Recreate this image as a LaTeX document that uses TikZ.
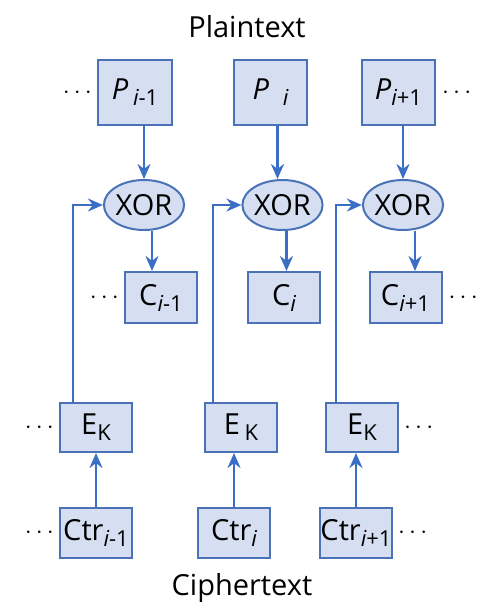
\documentclass[tikz,border=0pt]{standalone}
\usepackage{fontspec}
\setmainfont{Open Sans}
\usetikzlibrary{shapes.geometric,arrows.meta,positioning}

\definecolor{boxfill}{HTML}{D6DFF2}
\definecolor{boxline}{HTML}{4A72B6}
\definecolor{arrline}{HTML}{3B6FC6}

% lowered index text, e.g. i-1 or K
\def\low#1{\raisebox{-6pt}{\fontsize{22}{24}\selectfont #1}}
\def\isub#1{\low{\itshape i\upshape #1}}

\tikzset{
  blk/.style={draw=boxline, fill=boxfill, line width=2pt, minimum width=72pt,
    minimum height=50pt, inner sep=0pt},
  xorop/.style={ellipse, draw=boxline, fill=boxfill, line width=2pt,
    minimum width=72pt, minimum height=50pt, inner sep=0pt},
  arr/.style={draw=arrline, line width=2.5pt, -{Stealth[length=15pt,width=13pt]}},
  more/.style={inner sep=0pt}
}

\begin{document}
\begin{tikzpicture}[x=1pt,y=-1pt,font=\fontsize{29}{32}\selectfont]
        \useasboundingbox (0,0) rectangle (490,611);

        \node (pt) at (247,27) {Plaintext};
        \node (ct) at (242,588) {Ciphertext};

        % plaintext blocks
        \node[blk,minimum width=74pt,minimum height=65pt] (P1) at (135,92.5) {\textit{P}\,\isub{-1}};
        \node[blk,minimum width=73pt,minimum height=65pt] (P2) at (270.5,92.5) {\textit{P}\hspace{14pt}\isub{}};
        \node[blk,minimum width=73pt,minimum height=65pt] (P3) at (398.5,92.5) {\textit{P}\isub{+1}};

        % xor units
        \node[xorop] (X1) at (144,205) {XOR};
        \node[xorop] (X2) at (282.5,205) {XOR};
        \node[xorop] (X3) at (403,205) {XOR};

        % ciphertext blocks
        \node[blk,minimum height=51pt] (C1) at (161,297.5) {C\isub{-1}};
        \node[blk,minimum height=51pt] (C2) at (284,297.5) {C\isub{}};
        \node[blk,minimum height=51pt] (C3) at (405.5,297.5) {C\isub{+1}};

        % block cipher
        \node[blk,minimum height=49pt] (E1) at (96,427.5) {E\low{K}};
        \node[blk,minimum height=49pt] (E2) at (241,427.5) {E\,\low{K}};
        \node[blk,minimum height=49pt] (E3) at (362,427.5) {E\low{K}};

        % counters
        \node[blk] (R1) at (96,533) {Ctr\isub{-1}};
        \node[blk] (R2) at (234,533) {Ctr\isub{}};
        \node[blk] (R3) at (356,533) {Ctr\isub{+1}};

        % dots on the open ends
        \node[more,left=5pt of P1] (dP) {$\cdots$};
        \node[more,right=6pt of P3] (dP3) {$\cdots$};
        \node[more,left=5pt of C1] (dC) {$\cdots$};
        \node[more,right=6pt of C3] (dC3) {$\cdots$};
        \node[more,left=5pt of E1] (dE) {$\cdots$};
        \node[more,right=5pt of E3] (dE3) {$\cdots$};
        \node[more,left=5pt of R1] (dR) {$\cdots$};
        \node[more,right=5pt of R3] (dR3) {$\cdots$};

        \draw[arr] (P1.south -| X1.north) -- (X1.north);
        \draw[arr] ([xshift=-5pt]X2.north |- P2.south) -- ([xshift=-5pt]X2.north);
        \draw[arr] (P3.south -| X3.north) -- (X3.north);

        \draw[arr] ([xshift=8pt]X1.south) -- ([xshift=8pt]X1.south |- C1.north);
        \draw[arr] ([xshift=4pt]X2.south) -- ([xshift=4pt]X2.south |- C2.north);
        \draw[arr] ([xshift=12pt]X3.south) -- ([xshift=12pt]X3.south |- C3.north);

        \draw[arr] ([xshift=-23pt]E1.north) |- (X1.west);
        \draw[arr] ([xshift=-28pt]E2.north) |- (X2.west);
        \draw[arr] ([xshift=-26pt]E3.north) |- (X3.west);

        \draw[arr] (R1.north) -- (R1.north |- E1.south);
        \draw[arr] (R2.north) -- (R2.north |- E2.south);
        \draw[arr] (R3.north) -- (R3.north |- E3.south);
\end{tikzpicture}
\end{document}
